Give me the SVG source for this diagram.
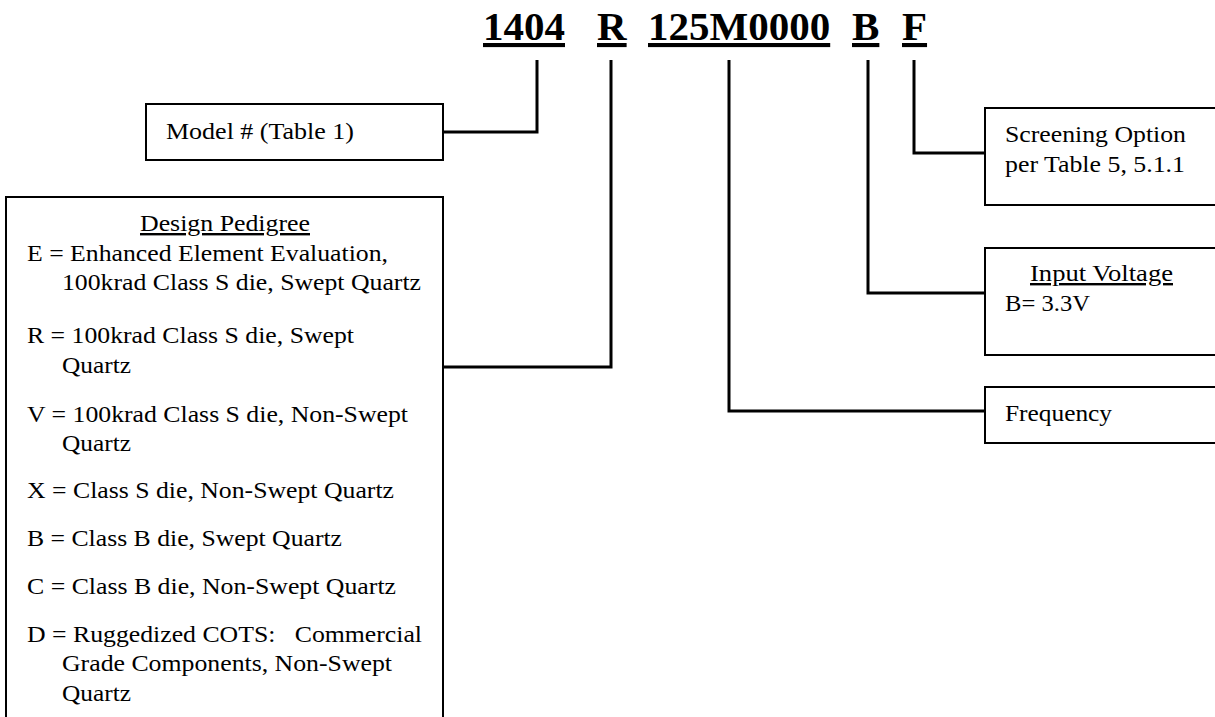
<svg xmlns="http://www.w3.org/2000/svg" width="1215" height="717" viewBox="0 0 1215 717">
<style>
.box{fill:#fff;stroke:#000;stroke-width:2}
.con{fill:none;stroke:#000;stroke-width:3}
.t{font-family:"Liberation Serif","Times New Roman",serif;font-size:24px;fill:#000}
.h{font-family:"Liberation Serif","Times New Roman",serif;font-size:41px;font-weight:bold;fill:#000;text-decoration:underline}
.u{text-decoration:underline}
</style>
<rect width="1215" height="717" fill="#fff"/>
<g id="title">
<text class="h" x="483" y="40">1404</text>
<text class="h" x="597" y="40">R</text>
<text class="h" x="648" y="40">125M0000</text>
<text class="h" x="852" y="40">B</text>
<text class="h" x="902" y="40">F</text>
</g>
<g id="connectors">
<polyline class="con" points="443,132 537,132 537,60"/>
<polyline class="con" points="443,367 611,367 611,60"/>
<polyline class="con" points="985,411 729,411 729,60"/>
<polyline class="con" points="985,293 868,293 868,60"/>
<polyline class="con" points="985,153 914,153 914,60"/>
</g>
<g id="model">
<rect class="box" x="146" y="104" width="297" height="56"/>
<text class="t" x="166" y="139" textLength="188" lengthAdjust="spacingAndGlyphs">Model # (Table 1)</text>
</g>
<g id="pedigree">
<rect class="box" x="6" y="197" width="437" height="540"/>
<text class="t u" x="140" y="231" textLength="170" lengthAdjust="spacingAndGlyphs">Design Pedigree</text>
<text class="t" x="27" y="261" textLength="361" lengthAdjust="spacingAndGlyphs">E = Enhanced Element Evaluation,</text>
<text class="t" x="62" y="290" textLength="359" lengthAdjust="spacingAndGlyphs">100krad Class S die, Swept Quartz</text>
<text class="t" x="27" y="343" textLength="327" lengthAdjust="spacingAndGlyphs">R = 100krad Class S die, Swept</text>
<text class="t" x="62" y="373" textLength="69" lengthAdjust="spacingAndGlyphs">Quartz</text>
<text class="t" x="27" y="422" textLength="381" lengthAdjust="spacingAndGlyphs">V = 100krad Class S die, Non-Swept</text>
<text class="t" x="62" y="451" textLength="69" lengthAdjust="spacingAndGlyphs">Quartz</text>
<text class="t" x="27" y="498" textLength="367" lengthAdjust="spacingAndGlyphs">X = Class S die, Non-Swept Quartz</text>
<text class="t" x="27" y="546" textLength="315" lengthAdjust="spacingAndGlyphs">B = Class B die, Swept Quartz</text>
<text class="t" x="27" y="594" textLength="369" lengthAdjust="spacingAndGlyphs">C = Class B die, Non-Swept Quartz</text>
<text class="t" x="27" y="642" textLength="395" lengthAdjust="spacingAndGlyphs" xml:space="preserve">D = Ruggedized COTS:   Commercial</text>
<text class="t" x="62" y="671" textLength="330" lengthAdjust="spacingAndGlyphs">Grade Components, Non-Swept</text>
<text class="t" x="62" y="701" textLength="69" lengthAdjust="spacingAndGlyphs">Quartz</text>
</g>
<g id="screening">
<rect class="box" x="985" y="108" width="240" height="97"/>
<text class="t" x="1005" y="142" textLength="181" lengthAdjust="spacingAndGlyphs">Screening Option</text>
<text class="t" x="1005" y="172" textLength="180" lengthAdjust="spacingAndGlyphs">per Table 5, 5.1.1</text>
</g>
<g id="voltage">
<rect class="box" x="985" y="248" width="240" height="107"/>
<text class="t u" x="1030" y="281" textLength="143" lengthAdjust="spacingAndGlyphs">Input Voltage</text>
<text class="t" x="1005" y="311" textLength="85" lengthAdjust="spacingAndGlyphs">B= 3.3V</text>
</g>
<g id="frequency">
<rect class="box" x="985" y="387" width="240" height="56"/>
<text class="t" x="1005" y="421" textLength="107" lengthAdjust="spacingAndGlyphs">Frequency</text>
</g>
</svg>
